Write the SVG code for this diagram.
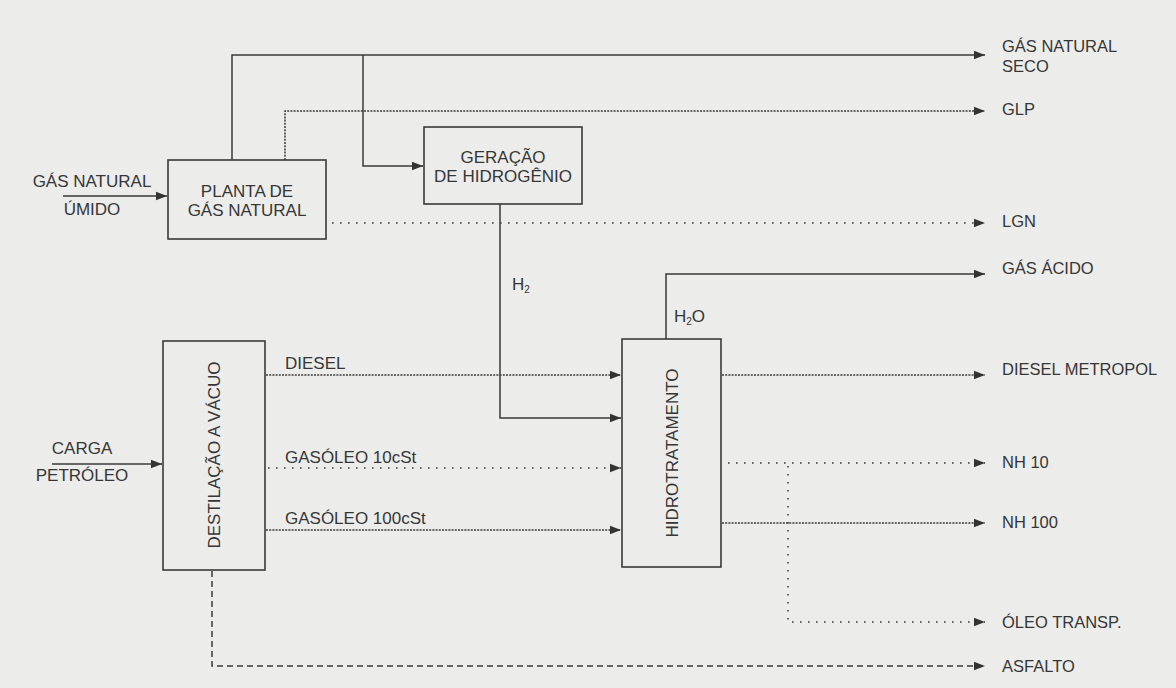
<svg xmlns="http://www.w3.org/2000/svg" width="1176" height="688" viewBox="0 0 1176 688">
<style>
text{font-family:"Liberation Sans",Arial,sans-serif;font-size:17px;fill:#363636}
.r{font-size:16.5px}
.c{text-anchor:middle}
.box{fill:none;stroke:#3a3a3a;stroke-width:1.6}
.ln{fill:none;stroke:#3a3a3a;stroke-width:1.5}
.solid{}
.fine{stroke-dasharray:2 1.2}
.sparse{stroke-dasharray:1.6 6.4}
.dash{stroke-dasharray:6 4}
.arr{marker-end:url(#ah)}
</style>
<defs>
<marker id="ah" markerUnits="userSpaceOnUse" markerWidth="12" markerHeight="10" refX="11" refY="5" orient="auto">
<path d="M0,0.8 L11,5 L0,9.2 z" fill="#333"/>
</marker>
</defs>
<rect width="1176" height="688" fill="#ececeb"/>

<g id="connectors">
<path class="ln arr" d="M63,196 H167"/>
<path class="ln arr" d="M232,160 V55 H985"/>
<path class="ln arr" d="M363,55 V166 H423"/>
<path class="ln fine arr" d="M285,160 V111 H985"/>
<path class="ln sparse arr" d="M332,223 H985"/>
<path class="ln arr" d="M500,204 V418 H621"/>
<path class="ln arr" d="M666,339 V274 H985"/>
<path class="ln fine arr" d="M266,375 H621"/>
<path class="ln sparse arr" d="M268,468 H621"/>
<path class="ln fine arr" d="M266,530 H621"/>
<path class="ln arr" d="M52,464 H162"/>
<path class="ln fine arr" d="M722,375 H985"/>
<path class="ln sparse arr" d="M728,463 H985"/>
<path class="ln fine arr" d="M722,523 H985"/>
<path class="ln sparse arr" d="M788,466 V622 H985"/>
<path class="ln dash arr" d="M212,571 V666 H985"/>
</g>

<g id="node-planta">
<rect class="box" x="168" y="160" width="158" height="79"/>
<text class="c" x="247" y="197">PLANTA DE</text>
<text class="c" x="247" y="216">GÁS NATURAL</text>
</g>

<g id="node-geracao">
<rect class="box" x="424" y="127" width="158" height="77"/>
<text class="c" x="503" y="163">GERAÇÃO</text>
<text class="c" x="503" y="182">DE HIDROGÊNIO</text>
</g>

<g id="node-destilacao">
<rect class="box" x="163" y="341" width="102" height="229"/>
<text class="c" x="220" y="455" transform="rotate(-90 220 455)">DESTILAÇÃO A VÁCUO</text>
</g>

<g id="node-hidro">
<rect class="box" x="622" y="339" width="99" height="228"/>
<text class="c" x="678" y="453" transform="rotate(-90 678 453)">HIDROTRATAMENTO</text>
</g>

<g id="labels-inputs">
<text class="c" x="92" y="187">GÁS NATURAL</text>
<text class="c" x="92" y="215">ÚMIDO</text>
<text class="c" x="82" y="454">CARGA</text>
<text class="c" x="82" y="481">PETRÓLEO</text>
</g>

<g id="labels-streams">
<text x="285" y="369">DIESEL</text>
<text x="285" y="463">GASÓLEO 10cSt</text>
<text x="285" y="524">GASÓLEO 100cSt</text>
<text x="512" y="290">H<tspan font-size="10" dy="3">2</tspan></text>
<text x="674" y="322">H<tspan font-size="10" dy="3">2</tspan><tspan dy="-3">O</tspan></text>
</g>

<g id="labels-outputs">
<text class="r" x="1002" y="52">GÁS NATURAL</text>
<text class="r" x="1002" y="72">SECO</text>
<text class="r" x="1002" y="115">GLP</text>
<text class="r" x="1002" y="227">LGN</text>
<text class="r" x="1002" y="274">GÁS ÁCIDO</text>
<text class="r" x="1002" y="375">DIESEL METROPOL</text>
<text class="r" x="1002" y="468">NH 10</text>
<text class="r" x="1002" y="528">NH 100</text>
<text class="r" x="1002" y="628">ÓLEO TRANSP.</text>
<text class="r" x="1002" y="672">ASFALTO</text>
</g>
</svg>
